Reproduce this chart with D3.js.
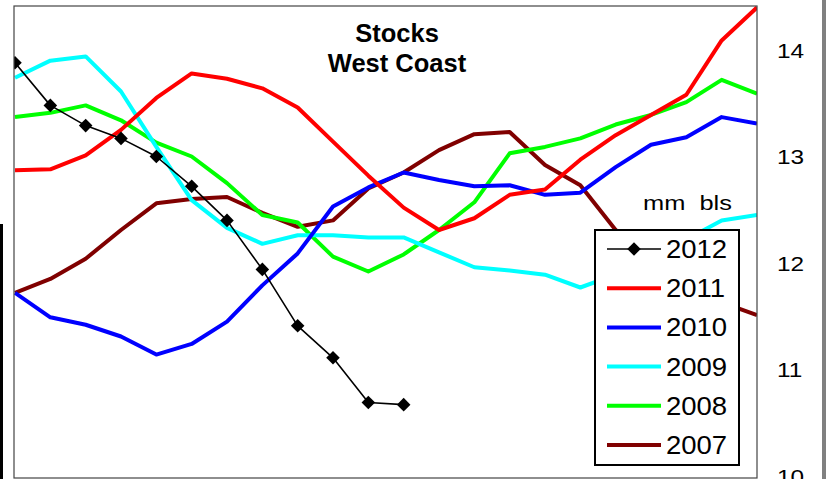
<!DOCTYPE html>
<html>
<head>
<meta charset="utf-8">
<script src="https://cdn.jsdelivr.net/npm/d3@7"></script>
<style>
  html, body { margin: 0; padding: 0; background: #fff; }
  svg { display: block; font-family: Arial, "Liberation Sans", sans-serif; }
</style>
</head>
<body>
<svg id="chart"></svg>
<script>
// weekly points, 22 across the plot
var weeks = d3.range(22);

var s2012 = [13.88, 13.48, 13.29, 13.17, 13.00, 12.72, 12.40, 11.94, 11.41, 11.11, 10.69, 10.67];
var s2011 = [12.87, 12.88, 13.01, 13.25, 13.55, 13.78, 13.73, 13.64, 13.46, 13.14, 12.82, 12.52,
             12.31, 12.42, 12.64, 12.69, 12.97, 13.20, 13.39, 13.58, 14.09, 14.40];
var s2010 = [11.72, 11.49, 11.42, 11.31, 11.14, 11.24, 11.45, 11.79, 12.09, 12.53, 12.71, 12.85,
             12.78, 12.72, 12.73, 12.64, 12.66, 12.90, 13.11, 13.18, 13.37, 13.31];
var s2009 = [13.74, 13.90, 13.94, 13.61, 13.09, 12.59, 12.33, 12.18, 12.26, 12.26, 12.24, 12.24,
             12.10, 11.96, 11.93, 11.89, 11.77, 11.89, 12.08, 12.22, 12.40, 12.45];
var s2008 = [13.37, 13.41, 13.48, 13.34, 13.13, 13.00, 12.75, 12.45, 12.38, 12.06, 11.92, 12.08,
             12.31, 12.57, 13.03, 13.09, 13.17, 13.30, 13.39, 13.51, 13.72, 13.59];
var s2007 = [11.72, 11.85, 12.04, 12.31, 12.56, 12.60, 12.62, 12.47, 12.34, 12.40, 12.70, 12.85,
             13.06, 13.21, 13.23, 12.92, 12.73, 12.31, 11.98, 11.75, 11.63, 11.51];

var years = ["2012", "2011", "2010", "2009", "2008", "2007"];
var colors = ["#000000", "#ff0000", "#0000ff", "#00ffff", "#00ff00", "#800000"];
var yTicks = [10, 11, 12, 13, 14];

var series = [s2012, s2011, s2010, s2009, s2008, s2007].map(function(v, i) {
  return {year: years[i], color: colors[i], values: v};
});

var W = 826, H = 479;
var plot = {left: 14, top: 6, right: 757, bottom: 478};

var svg = d3.select("#chart").attr("width", W).attr("height", H);

var x = d3.scaleLinear().domain([0, 21]).range([15, 757]);
var y = d3.scaleLinear().domain([10, 14]).range([476, 50]);

// bits of the neighbouring charts at the crop edges
svg.append("rect").attr("x", 0).attr("y", 224).attr("width", 3).attr("height", H - 224).attr("fill", "#000");
svg.append("rect").attr("x", 822).attr("y", 0).attr("width", 4).attr("height", H).attr("fill", "#808080");

svg.append("clipPath").attr("id", "clip")
  .append("rect")
  .attr("x", plot.left).attr("y", plot.top)
  .attr("width", plot.right - plot.left).attr("height", plot.bottom - plot.top);

var line = d3.line()
  .x(function(d, i) { return x(weeks[i]); })
  .y(function(d) { return y(d); });

var g = svg.append("g").attr("clip-path", "url(#clip)");

// older years underneath, 2012 on top
series.slice().reverse().forEach(function(s) {
  g.append("path")
    .attr("d", line(s.values))
    .attr("fill", "none")
    .attr("stroke", s.color)
    .attr("stroke-width", s.year == "2012" ? 1.6 : 4)
    .attr("stroke-linejoin", "round");
});

var diamond = d3.symbol().type(d3.symbolSquare).size(92);
g.selectAll(".mk")
  .data(s2012)
  .enter().append("path")
  .attr("class", "mk")
  .attr("d", diamond)
  .attr("fill", "#000")
  .attr("transform", function(d, i) { return "translate(" + x(weeks[i]) + "," + y(d) + ") rotate(45)"; });

// frame
svg.append("rect")
  .attr("x", plot.left).attr("y", plot.top)
  .attr("width", plot.right - plot.left).attr("height", plot.bottom - plot.top)
  .attr("fill", "none").attr("stroke", "#444").attr("stroke-width", 1.2);

// right hand value labels (the 10 is cut by the bottom edge, as in the original)
svg.append("g").selectAll("text")
  .data(yTicks)
  .enter().append("text")
  .attr("transform", function(d) { return "translate(777," + (y(d) + 7.5) + ") scale(1.22,1)"; })
  .attr("font-size", 20)
  .attr("fill", "#000")
  .text(function(d) { return d; });

// title
var title = svg.append("text")
  .attr("text-anchor", "middle")
  .attr("font-weight", "bold")
  .attr("font-size", 25.5)
  .attr("fill", "#000");
title.append("tspan").attr("x", 397).attr("y", 42).text("Stocks");
title.append("tspan").attr("x", 397).attr("y", 72).text("West Coast");

// units
svg.append("text")
  .attr("transform", "translate(643,210) scale(1.27,1)")
  .attr("font-size", 20)
  .style("white-space", "pre")
  .attr("fill", "#000")
  .text("mm  bls");

// legend
var lg = svg.append("g");
lg.append("rect")
  .attr("x", 595).attr("y", 230).attr("width", 144).attr("height", 235)
  .attr("fill", "#fff").attr("stroke", "#000").attr("stroke-width", 2);

var item = lg.selectAll(".item")
  .data(series)
  .enter().append("g")
  .attr("class", "item")
  .attr("transform", function(d, i) { return "translate(0," + (249 + i * 39.2) + ")"; });

item.append("line")
  .attr("x1", 607).attr("x2", 661)
  .attr("stroke", function(d) { return d.color; })
  .attr("stroke-width", function(d) { return d.year == "2012" ? 1.6 : 4; });

item.filter(function(d) { return d.year == "2012"; })
  .append("path")
  .attr("d", diamond)
  .attr("transform", "translate(634,0) rotate(45)")
  .attr("fill", "#000");

item.append("text")
  .attr("transform", "translate(666,9) scale(1.1,1)")
  .attr("font-size", 25)
  .attr("fill", "#000")
  .text(function(d) { return d.year; });
</script>
</body>
</html>
